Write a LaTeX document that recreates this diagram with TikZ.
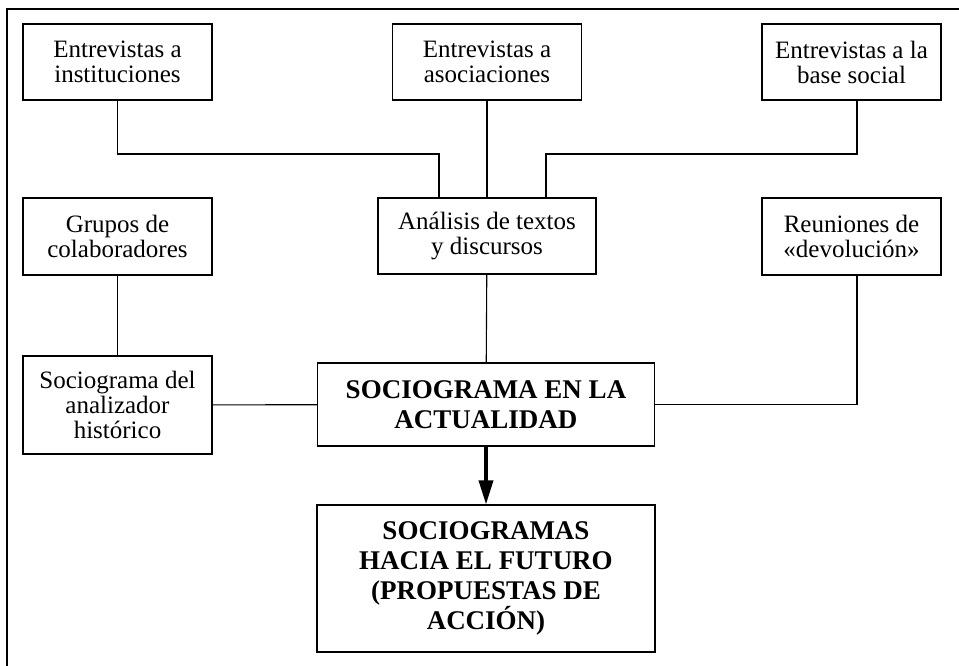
\documentclass[tikz,border=0pt]{standalone}
\usepackage{fontspec}
\setmainfont{Liberation Serif}
\usetikzlibrary{arrows.meta}

\begin{document}
\begin{tikzpicture}[x=1pt, y=-1pt, line width=1.1pt]
	\tikzstyle{caja}=[draw, inner sep=0pt, align=center, font=\fontsize{25}{25}\selectfont]
	\tikzstyle{cajanegra}=[caja, font=\bfseries\fontsize{27}{30}\selectfont]
	\useasboundingbox (0,0) rectangle (959,666);
	% marco
	\draw (959,9) -- (7,9) -- (7,666);
	% fila de entrevistas
	\node[caja, minimum width=189pt, minimum height=76pt] (inst) at (117.5, 62) {Entrevistas a\\instituciones};
	\node[caja, minimum width=189pt, minimum height=76pt] (asoc) at (487, 62) {Entrevistas a\\asociaciones};
	\node[caja, minimum width=179pt, minimum height=76pt] (base) at (851.5, 62) {Entrevistas a la\\base social};
	% segunda fila
	\node[caja, minimum width=189pt, minimum height=77pt] (grupos) at (117.5, 236.5) {Grupos de\\colaboradores};
	\node[caja, minimum width=218pt, minimum height=76pt] (textos) at (487, 236) {Análisis de textos\\y discursos};
	\node[caja, minimum width=179pt, minimum height=77pt] (reun) at (851.5, 236.5) {Reuniones de\\«devolución»};
	% sociogramas
	\node[caja, minimum width=189pt, minimum height=98pt] (hist) at (117.5, 405) {Sociograma del\\analizador\\histórico};
	\node[cajanegra, minimum width=337pt, minimum height=83pt] (actual) at (486, 404.5) {SOCIOGRAMA EN LA\\ACTUALIDAD};
	\node[cajanegra, minimum width=338pt, minimum height=147pt] (futuro) at (486, 578.5) {SOCIOGRAMAS\\HACIA EL FUTURO\\(PROPUESTAS DE\\ACCIÓN)};
	\coordinate (jl) at (439, 154);
	\coordinate (jr) at (546, 154);
	\draw (inst.south) |- (jl) -- (jl |- textos.north);
	\draw (asoc) -- (textos);
	\draw ([xshift=5.5pt]base.south) |- (jr) -- (jr |- textos.north);
	\draw (grupos) -- (hist);
	\draw (textos) -- (actual);
	\draw (hist) -- (actual);
	\draw (actual.east) -| ([xshift=5.5pt]reun.south);
	\draw [line width=3.5pt, -{Triangle[length=24pt, width=14pt]}] (actual.south) -- (futuro.north);
\end{tikzpicture}
\end{document}
